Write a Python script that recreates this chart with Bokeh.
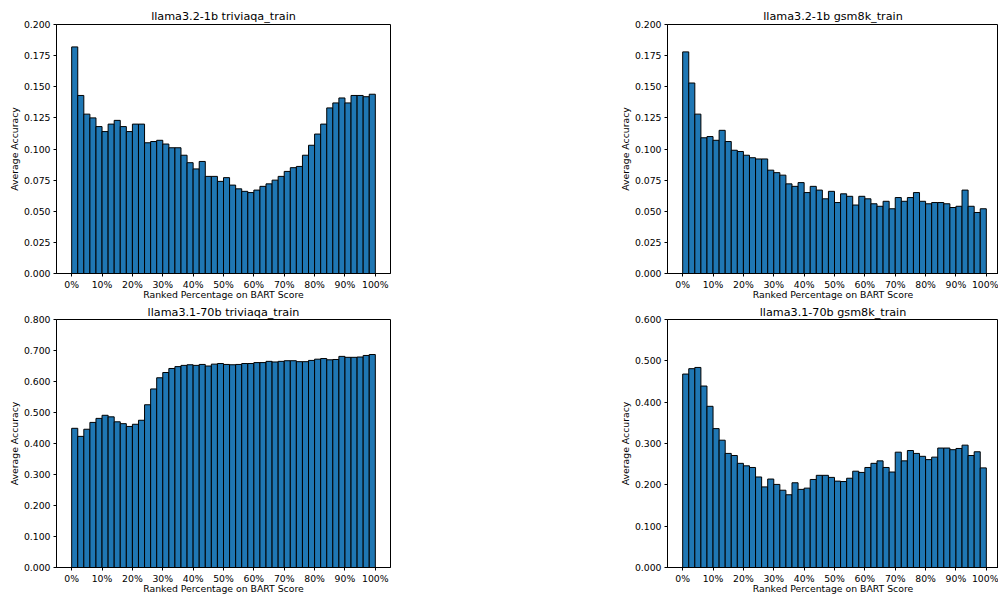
from bokeh.plotting import figure
from bokeh.models import FixedTicker, NumeralTickFormatter, Range1d
from bokeh.layouts import row, column
from bokeh.embed import file_html
from bokeh.resources import INLINE

# ---- data ----
BIN_WIDTH = 2
PCT = [i * BIN_WIDTH for i in range(50)]  # left edge of each ranked-percentage bin

X_TICKS = [0, 10, 20, 30, 40, 50, 60, 70, 80, 90, 100]
X_TICK_LABELS = ["0%", "10%", "20%", "30%", "40%", "50%", "60%", "70%", "80%", "90%", "100%"]

TITLES = ["llama3.2-1b triviaqa_train", "llama3.2-1b gsm8k_train",
          "llama3.1-70b triviaqa_train", "llama3.1-70b gsm8k_train"]

L32_TRIVIA = [0.182, 0.143, 0.128, 0.125, 0.118, 0.114, 0.120, 0.123, 0.118, 0.114,
              0.120, 0.120, 0.105, 0.106, 0.107, 0.104, 0.101, 0.101, 0.095, 0.089,
              0.084, 0.090, 0.078, 0.078, 0.074, 0.077, 0.071, 0.068, 0.066, 0.065,
              0.067, 0.070, 0.072, 0.075, 0.078, 0.082, 0.085, 0.086, 0.095, 0.103,
              0.112, 0.120, 0.133, 0.137, 0.141, 0.137, 0.143, 0.143, 0.142, 0.144]

L32_GSM8K = [0.178, 0.153, 0.128, 0.109, 0.110, 0.107, 0.115, 0.106, 0.099, 0.098,
             0.095, 0.093, 0.092, 0.092, 0.083, 0.081, 0.079, 0.072, 0.070, 0.073,
             0.065, 0.070, 0.067, 0.060, 0.066, 0.057, 0.064, 0.062, 0.055, 0.062,
             0.060, 0.056, 0.054, 0.058, 0.052, 0.061, 0.058, 0.061, 0.065, 0.058,
             0.056, 0.057, 0.057, 0.056, 0.053, 0.054, 0.067, 0.054, 0.049, 0.052]

L31_TRIVIA = [0.449, 0.423, 0.446, 0.468, 0.481, 0.491, 0.486, 0.470, 0.464, 0.455,
              0.462, 0.475, 0.525, 0.576, 0.612, 0.629, 0.642, 0.648, 0.652, 0.654,
              0.652, 0.655, 0.650, 0.656, 0.658, 0.655, 0.654, 0.655, 0.658, 0.658,
              0.661, 0.661, 0.665, 0.663, 0.665, 0.667, 0.667, 0.664, 0.664, 0.668,
              0.672, 0.674, 0.670, 0.671, 0.681, 0.678, 0.678, 0.679, 0.684, 0.687]

L31_GSM8K = [0.468, 0.481, 0.484, 0.439, 0.390, 0.336, 0.308, 0.276, 0.271, 0.252,
             0.246, 0.242, 0.219, 0.195, 0.214, 0.201, 0.187, 0.176, 0.205, 0.189,
             0.192, 0.213, 0.223, 0.223, 0.218, 0.209, 0.208, 0.216, 0.233, 0.230,
             0.242, 0.252, 0.258, 0.242, 0.231, 0.279, 0.258, 0.283, 0.276, 0.269,
             0.261, 0.267, 0.289, 0.289, 0.285, 0.288, 0.296, 0.271, 0.280, 0.241]

Y_TICKS_SMALL = [0.0, 0.025, 0.05, 0.075, 0.1, 0.125, 0.15, 0.175, 0.2]
Y_TICKS_08 = [0.0, 0.1, 0.2, 0.3, 0.4, 0.5, 0.6, 0.7, 0.8]
Y_TICKS_06 = [0.0, 0.1, 0.2, 0.3, 0.4, 0.5, 0.6]

BAR_COLOR = "#1f77b4"
FONT = "DejaVu Sans"
TICK_SIZE = "9.3px"
TITLE_SIZE = "11.2px"

FRAME_W_LEFT = 334
FRAME_W_RIGHT = 331
PX_PER_UNIT = FRAME_W_LEFT / 110.0


def make(title, vals, ymax, yticks, right, top_row):
    x_end = 105 if not right else -5 + FRAME_W_RIGHT / PX_PER_UNIT
    p = figure(output_backend="svg", toolbar_location=None,
               x_range=Range1d(-5, x_end), y_range=Range1d(0, ymax),
               frame_width=FRAME_W_RIGHT if right else FRAME_W_LEFT,
               frame_height=249 if top_row else 248,
               min_border_left=60 if right else 56,
               min_border_right=0 if right else 217,
               min_border_top=24 if top_row else 17,
               min_border_bottom=29 if top_row else 28,
               title=title, background_fill_color="white",
               border_fill_color="white")
    p.vbar(x=[v + BIN_WIDTH / 2 for v in PCT], width=BIN_WIDTH, top=vals, bottom=0,
           fill_color=BAR_COLOR, line_color="black", line_width=1)
    p.xgrid.visible = False
    p.ygrid.visible = False
    p.title.text_font = FONT
    p.title.text_font_size = TITLE_SIZE
    p.title.text_font_style = "normal"
    p.title.align = "center"
    p.title.text_color = "black"
    p.title.standoff = 4 if top_row else 1
    p.outline_line_color = "black"
    p.outline_line_width = 1
    p.outline_line_alpha = 1.0
    xa = p.below[0]
    ya = p.left[0]
    for ax in [xa, ya]:
        ax.major_tick_in = 0
        ax.major_tick_out = 3
        ax.minor_tick_line_color = None
        ax.major_tick_line_color = "black"
        ax.axis_line_color = "black"
        ax.major_label_text_font = FONT
        ax.major_label_text_font_size = TICK_SIZE
        ax.major_label_text_color = "black"
        ax.axis_label_text_font = FONT
        ax.axis_label_text_font_size = TICK_SIZE
        ax.axis_label_text_font_style = "normal"
        ax.axis_label_text_color = "black"
        ax.major_label_standoff = 3
        ax.axis_label_standoff = 1
    xa.ticker = FixedTicker(ticks=X_TICKS)
    xa.major_label_overrides = {t: lab for t, lab in zip(X_TICKS, X_TICK_LABELS)}
    xa.axis_label = "Ranked Percentage on BART Score"
    xa.major_label_standoff = 2
    xa.axis_label_standoff = -4
    ya.ticker = FixedTicker(ticks=yticks)
    ya.formatter = NumeralTickFormatter(format="0.000")
    ya.axis_label = "Average Accuracy"
    return p


p1 = make(TITLES[0], L32_TRIVIA, 0.2, Y_TICKS_SMALL, False, True)
p2 = make(TITLES[1], L32_GSM8K, 0.2, Y_TICKS_SMALL, True, True)
p3 = make(TITLES[2], L31_TRIVIA, 0.8, Y_TICKS_08, False, False)
p4 = make(TITLES[3], L31_GSM8K, 0.6, Y_TICKS_06, True, False)

layout = column(row(p1, p2), row(p3, p4))

open("out.html", "w").write(file_html(layout, INLINE))
